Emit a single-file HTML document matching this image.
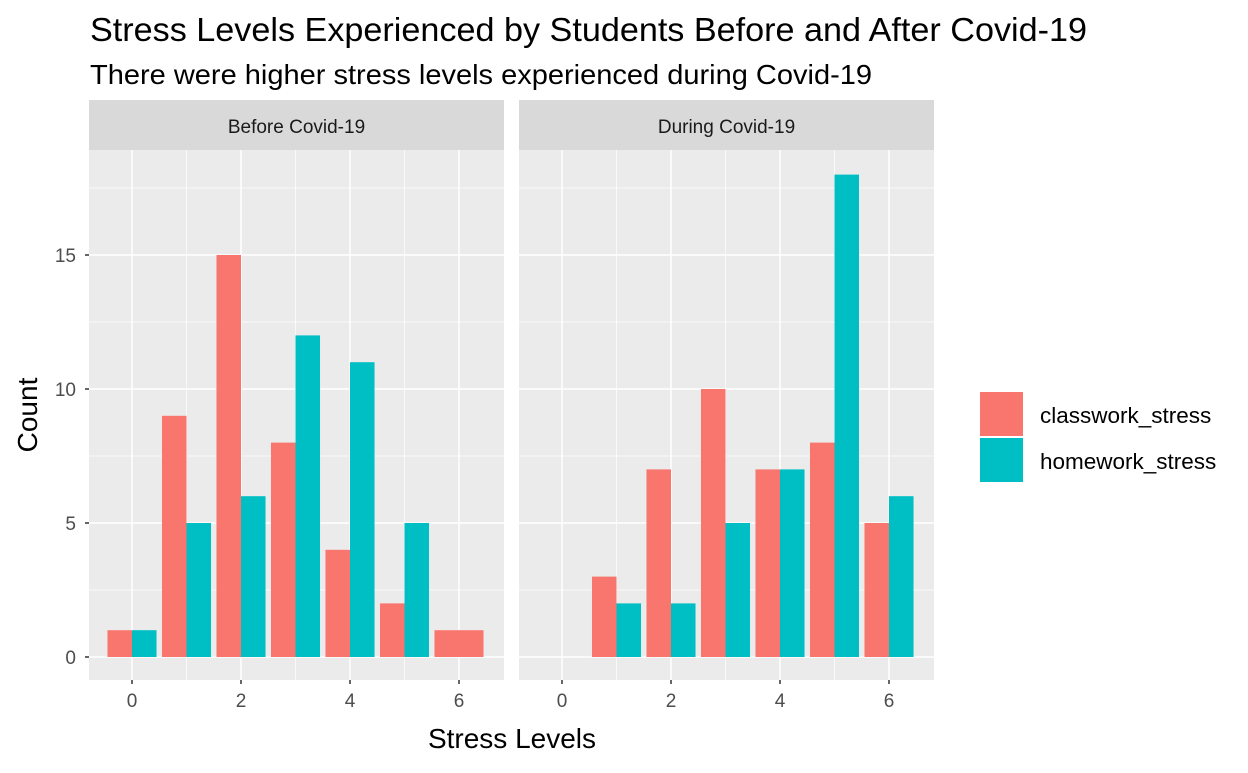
<!DOCTYPE html>
<html><head><meta charset="utf-8"><style>
body{margin:0;background:#fff;}
svg text{font-family:"Liberation Sans",Arial,sans-serif;}
</style></head><body>
<svg id="chart" width="1248" height="768" xmlns="http://www.w3.org/2000/svg">
<rect width="1248" height="768" fill="#fff"/>
<text x="90" y="41" font-size="33" fill="#000" textLength="997" lengthAdjust="spacingAndGlyphs">Stress Levels Experienced by Students Before and After Covid-19</text>
<text x="90" y="84" font-size="28" fill="#000" textLength="782" lengthAdjust="spacingAndGlyphs">There were higher stress levels experienced during Covid-19</text>
<text transform="translate(37,415) rotate(-90)" text-anchor="middle" font-size="28" fill="#000">Count</text>
<text x="512" y="748" text-anchor="middle" font-size="28" fill="#000">Stress Levels</text>
<g id="panels"></g>
<g>
<rect x="980" y="392" width="43" height="44" fill="#F8766D"/>
<text x="1040" y="423" font-size="22.5" fill="#000">classwork_stress</text>
<rect x="980" y="438" width="43" height="44" fill="#00BFC4"/>
<text x="1040" y="469" font-size="22.5" fill="#000">homework_stress</text>
</g>
</svg>
<script>
const panelTitles = ["Before Covid-19", "During Covid-19"];
const levels = [0,1,2,3,4,5,6];
const beforeClasswork = [1,9,15,8,4,2,1];
const beforeHomework = [1,5,6,12,11,5,null];
const duringClasswork = [null,3,7,10,7,8,5];
const duringHomework = [null,2,2,5,7,18,6];
const yTicks = [0,5,10,15];
const xTicks = [0,2,4,6];

const NS="http://www.w3.org/2000/svg";
const panelsG=document.getElementById('panels');
function mk(tag,attrs,parent){const e=document.createElementNS(NS,tag);for(const k in attrs)e.setAttribute(k,attrs[k]);parent.appendChild(e);return e;}
const panelLeft=[89,519], panelW=415, panelTop=150, panelBottom=680;
const yScale=v=>657-v*26.8;
const series=[[beforeClasswork,beforeHomework],[duringClasswork,duringHomework]];
const colors=["#F8766D","#00BFC4"];
panelLeft.forEach((L,p)=>{
  const xScale=v=>L+43+v*54.5;
  const pg=mk('g',{},panelsG);
  
  
  const strip=mk('rect',{x:L,y:100,width:panelW,height:50,fill:'#D9D9D9'},pg);
  
  
  const st=mk('text',{x:L+panelW/2,y:133,'text-anchor':'middle','font-size':19,fill:'#1A1A1A'},pg);
  st.textContent=panelTitles[p];
  
  
  const bg=mk('rect',{x:L,y:panelTop,width:panelW,height:panelBottom-panelTop,fill:'#EBEBEB'},pg);
  
  
  [2.5,7.5,12.5,17.5].forEach(v=>mk('line',{x1:L,x2:L+panelW,y1:yScale(v),y2:yScale(v),stroke:'#fff','stroke-width':0.7},pg));
  [1,3,5].forEach(v=>mk('line',{x1:xScale(v),x2:xScale(v),y1:panelTop,y2:panelBottom,stroke:'#fff','stroke-width':0.7},pg));
  yTicks.forEach(v=>mk('line',{x1:L,x2:L+panelW,y1:yScale(v),y2:yScale(v),stroke:'#fff','stroke-width':1.5},pg));
  xTicks.forEach(v=>{
    mk('line',{x1:xScale(v),x2:xScale(v),y1:panelTop,y2:panelBottom,stroke:'#fff','stroke-width':1.5},pg);
    mk('line',{x1:xScale(v),x2:xScale(v),y1:panelBottom,y2:panelBottom+4,stroke:'#333','stroke-width':1.5},pg);
    const t=mk('text',{x:xScale(v),y:panelBottom+27,'text-anchor':'middle','font-size':19,fill:'#4D4D4D'},pg);
    t.textContent=v;
    
    
  });
  const bw=0.45*54.5;
  levels.forEach((lv,i)=>{
    const vals=series[p].map(s=>s[i]);
    const present=vals.map((v,k)=>v!=null?k:-1).filter(k=>k>=0);
    present.forEach((k,j)=>{
      const v=vals[k];
      let x0,w;
      if(present.length===1){x0=xScale(lv)-bw;w=2*bw;}else{x0=xScale(lv)-bw+j*bw;w=bw;}
      const r=mk('rect',{x:x0,y:yScale(v),width:w,height:yScale(0)-yScale(v),fill:colors[k]},pg);
      
      
    });
  });
});
yTicks.forEach(v=>{
  mk('line',{x1:85,x2:89,y1:yScale(v),y2:yScale(v),stroke:'#333','stroke-width':1.5},panelsG);
  const t=mk('text',{x:76,y:yScale(v)+7,'text-anchor':'end','font-size':19,fill:'#4D4D4D'},panelsG);
  t.textContent=v;
  
  
});
</script>
</body></html>
